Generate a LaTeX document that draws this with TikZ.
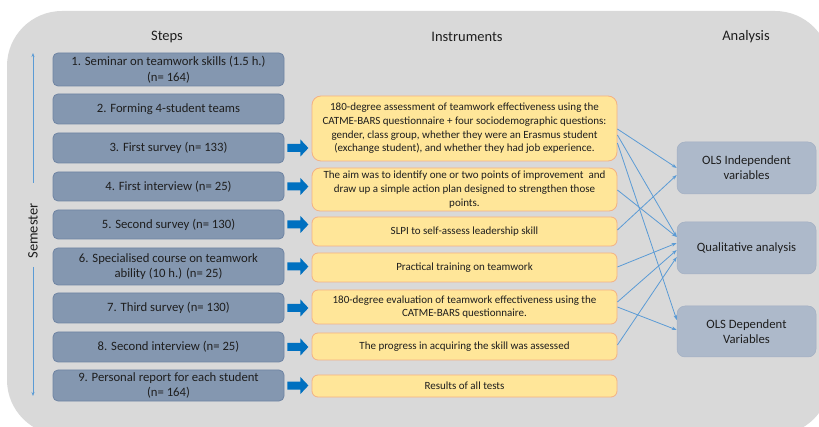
\documentclass[tikz,border=0pt]{standalone}
\usepackage{fontspec}
\setmainfont{Carlito}
\usetikzlibrary{arrows.meta,calc}
\definecolor{bggray}{HTML}{D9D9D9}
\definecolor{stepfill}{HTML}{8497B0}
\definecolor{stepdraw}{HTML}{6F84A3}
\definecolor{instfill}{HTML}{FFE699}
\definecolor{instdraw}{HTML}{F4B183}
\definecolor{anafill}{HTML}{ADB9CA}
\definecolor{anadraw}{HTML}{A2AFC3}
\definecolor{bluearr}{HTML}{0070C0}
\definecolor{connblue}{HTML}{5B9BD5}
\definecolor{txt}{HTML}{1E1E1E}
\begin{document}
\begin{tikzpicture}[x=1pt,y=-1pt,
 stepbox/.style={draw=stepdraw, fill=stepfill, line width=0.8pt, rounded corners=5pt, minimum width=231pt, inner sep=2pt, align=center, font=\fontsize{12.7}{15.5}\selectfont, text=txt},
 instbox/.style={draw=instdraw, fill=instfill, line width=0.8pt, rounded corners=6pt, minimum width=305pt, inner sep=2pt, align=center, font=\fontsize{11}{13.7}\selectfont, text=txt},
 anabox/.style={draw=anadraw, fill=anafill, line width=0.5pt, rounded corners=8pt, minimum width=139pt, minimum height=52pt, align=center, font=\fontsize{12.7}{15}\selectfont, text=txt},
 header/.style={font=\fontsize{14.5}{17}\selectfont, text=txt},
 conn/.style={draw=connblue, line width=0.8pt, -{Stealth[length=5pt,width=3.5pt]}},
 semarr/.style={draw=connblue, line width=0.8pt, -{Stealth[length=4pt,width=3pt]}},
 barrow/.pic={\fill[bluearr] (0,-4) -- (13,-4) -- (13,-8.5) -- (21,0) -- (13,8.5) -- (13,4) -- (0,4) -- cycle;}
]
\useasboundingbox (0,0) rectangle (819,427);
\clip (0,0) rectangle (819,427);
\fill[bggray, rounded corners=55pt] (7,11) rectangle (830,435);

% headers
\node[header] (hsteps) at (167,37) {Steps};
\node[header] (hinst) at (467,37) {Instruments};
\node[header] (hana) at (746,37) {Analysis};

% semester
\node[header, rotate=90] (sem) at (33,231) {Semester};
\coordinate (semtop) at (33,53);
\coordinate (semup) at (33,183);
\coordinate (semdn) at (33,267);
\coordinate (sembot) at (33,396);
\draw[semarr] (semup) -- (semtop);
\draw[semarr] (semdn) -- (sembot);

% steps
\node[stepbox, minimum height=33pt] (s1) at (168.5,69.5) {1. Seminar on teamwork skills (1.5 h.)\\(n= 164)};
\node[stepbox, minimum height=30pt] (s2) at (168.5,109) {2. Forming 4-student teams};
\node[stepbox, minimum height=30pt] (s3) at (168.5,148) {3. First survey (n= 133)};
\node[stepbox, minimum height=29pt] (s4) at (168.5,186.5) {4. First interview (n= 25)};
\node[stepbox, minimum height=29pt] (s5) at (168.5,224.5) {5. Second survey (n= 130)};
\node[stepbox, minimum height=37pt] (s6) at (168.5,266.5) {6. Specialised course on teamwork\\ability (10 h.) (n= 25)};
\node[stepbox, minimum height=30pt] (s7) at (168.5,308) {7. Third survey (n= 130)};
\node[stepbox, minimum height=30pt] (s8) at (168.5,347) {8. Second interview (n= 25)};
\node[stepbox, minimum height=31pt] (s9) at (168.5,385.5) {9. Personal report for each student\\(n= 164)};

% block arrows
\foreach \s in {s3,s4,s5,s6,s7,s8,s9}
  \pic at ([xshift=3pt]\s.east) {barrow};

% instruments
\node[instbox, minimum height=65pt, rounded corners=9pt] (y1) at (464.5,128.5) {180-degree assessment of teamwork effectiveness using the\\CATME-BARS questionnaire + four sociodemographic questions:\\gender, class group, whether they were an Erasmus student\\(exchange student), and whether they had job experience.};
\node[instbox, minimum height=43pt, rounded corners=8pt] (y2) at (464.5,189.5) {The aim was to identify one or two points of improvement\ \ and\\draw up a simple action plan designed to strengthen those\\points.};
\node[instbox, minimum height=29pt] (y3) at (464.5,231.5) {SLPI to self-assess leadership skill};
\node[instbox, minimum height=29pt] (y4) at (464.5,267.5) {Practical training on teamwork};
\node[instbox, minimum height=34pt] (y5) at (464.5,307) {180-degree evaluation of teamwork effectiveness using the\\CATME-BARS questionnaire.};
\node[instbox, minimum height=27pt] (y6) at (464.5,346.5) {The progress in acquiring the skill was assessed};
\node[instbox, minimum height=22pt] (y7) at (464.5,386) {Results of all tests};

% analysis
\node[anabox] (a1) at (746.5,168) {OLS Independent\\variables};
\node[anabox] (a2) at (746.5,248) {Qualitative analysis};
\node[anabox, minimum height=51pt] (a3) at (746.5,331.5) {OLS Dependent\\Variables};

% connectors
\draw[conn] ($(y1.east)+(0,0.5)$) -- ($(a1.west)+(0,0)$);
\draw[conn] ($(y1.east)+(0,6.5)$) -- ($(a2.west)+(0,-11)$);
\draw[conn] ($(y1.east)+(0,14.5)$) -- ($(a3.west)+(0,-11.5)$);
\draw[conn] ($(y2.east)+(0,0.5)$) -- ($(a2.west)+(0,-11)$);
\draw[conn] ($(y3.east)+(0,-1.5)$) -- ($(a1.west)+(0,7)$);
\draw[conn] ($(y4.east)+(0,-0.5)$) -- ($(a2.west)+(0,-5)$);
\draw[conn] ($(y5.east)+(0,-5)$) -- ($(a2.west)+(0,2)$);
\draw[conn] ($(y5.east)+(0,0)$) -- ($(a3.west)+(0,-1.5)$);
\draw[conn] ($(y6.east)+(0,-1.5)$) -- ($(a2.west)+(0,9)$);
\end{tikzpicture}
\end{document}
